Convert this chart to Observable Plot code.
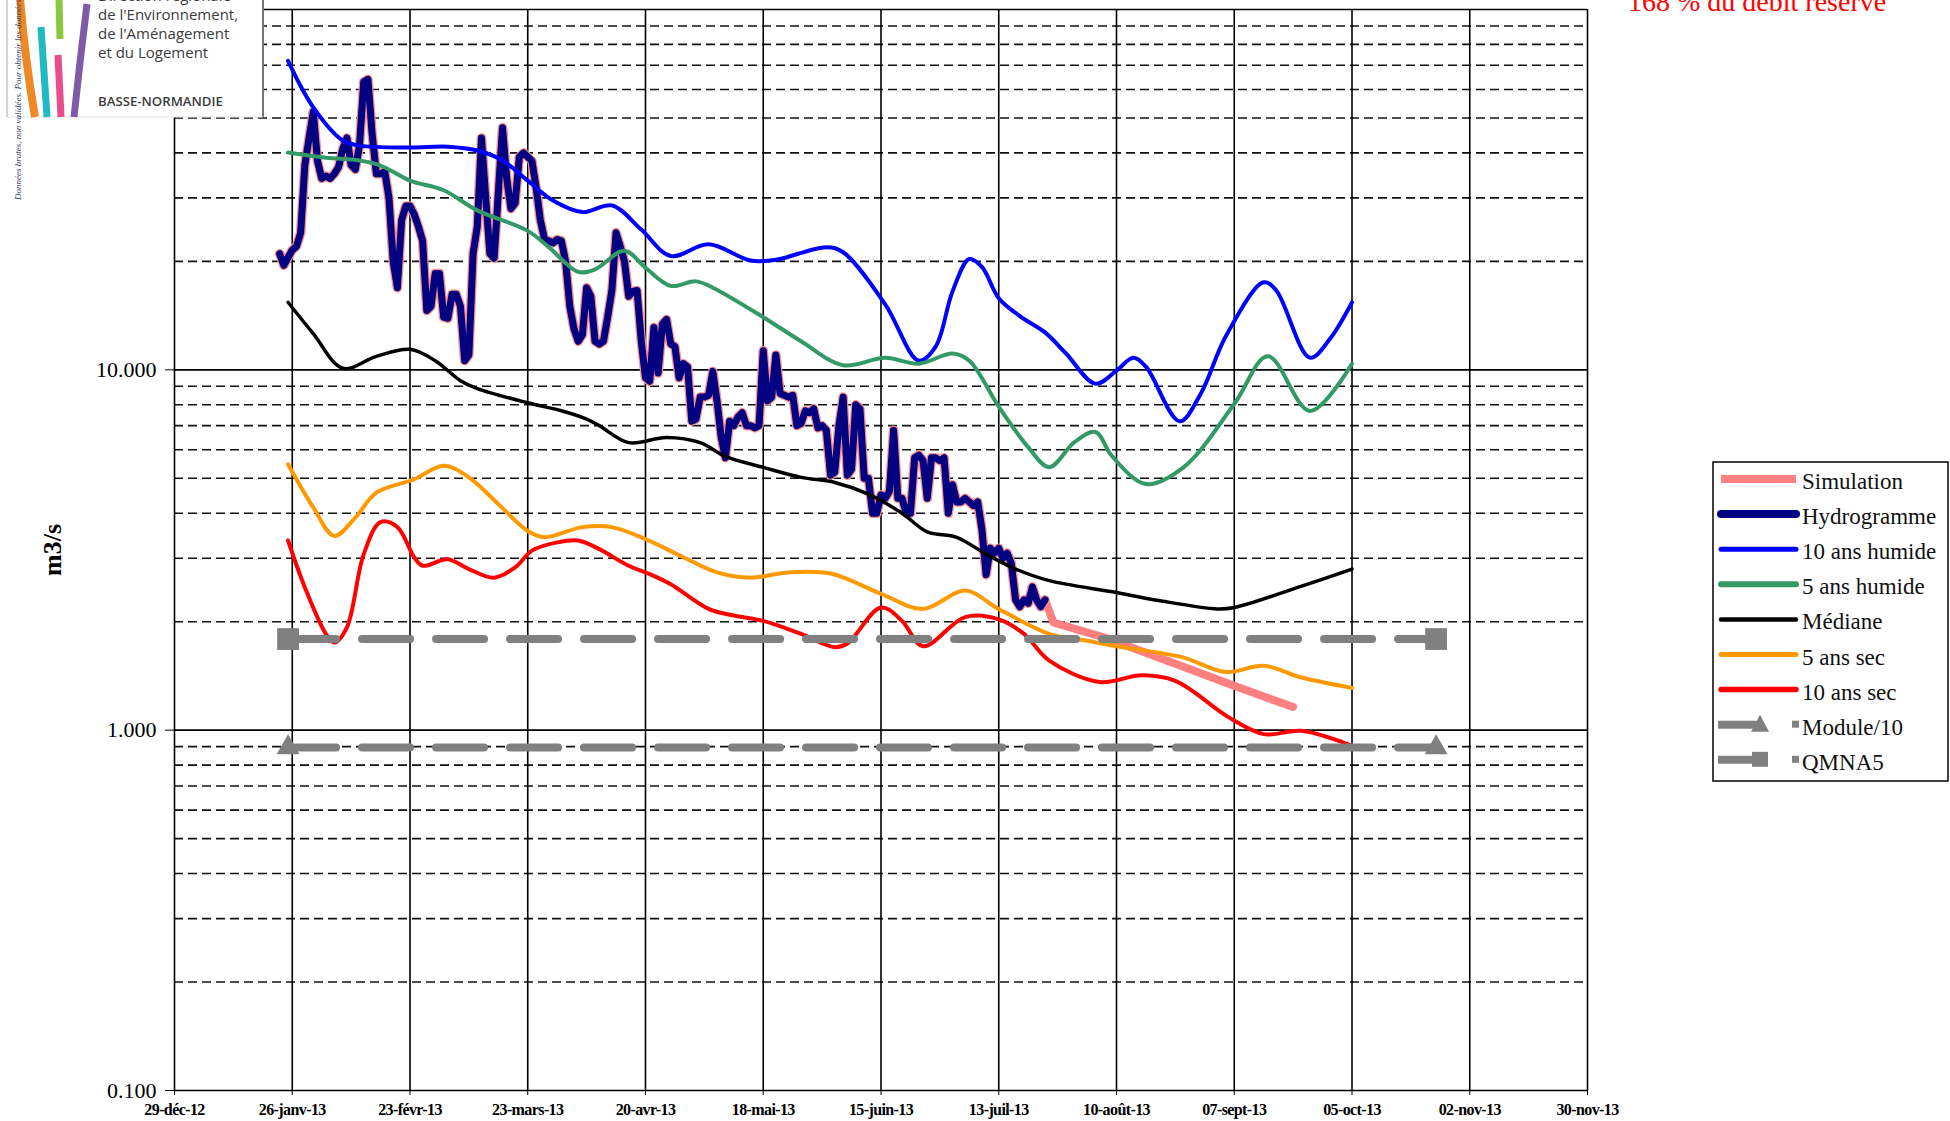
<!DOCTYPE html>
<html>
<head>
<meta charset="utf-8">
<script src="https://cdn.jsdelivr.net/npm/d3@7"></script>
<script src="https://cdn.jsdelivr.net/npm/@observablehq/plot@0.6"></script>
<style>
  html, body { margin: 0; padding: 0; background: #fff; overflow: hidden; }
  #wrap { position: relative; width: 1950px; height: 1121px; }
  #chart svg { display: block; max-width: none; }
  #overlay { position: absolute; left: 0; top: 0; pointer-events: none; }
  g[aria-label="x-axis tick label"] text { font-family: "Liberation Serif", serif; font-size: 16px; font-weight: bold; letter-spacing: -0.6px; fill: #000; }
  g[aria-label="y-axis tick label"] text { font-family: "Liberation Serif", serif; font-size: 22px; fill: #000; }
</style>
</head>
<body>
<div id="wrap"><div id="chart"></div></div>
<script>
// ---------- DATA ----------
const xTickDates = ["2012-12-29","2013-01-26","2013-02-23","2013-03-23","2013-04-20","2013-05-18","2013-06-15","2013-07-13","2013-08-10","2013-09-07","2013-10-05","2013-11-02","2013-11-30"];
const xTickLabels = ["29-déc-12","26-janv-13","23-févr-13","23-mars-13","20-avr-13","18-mai-13","15-juin-13","13-juil-13","10-août-13","07-sept-13","05-oct-13","02-nov-13","30-nov-13"];
const yTickValues = [0.1, 1, 10];
const yMajorGrid = [0.1, 1, 10, 100];
const yMinorGrid = [0.2,0.3,0.4,0.5,0.6,0.7,0.8,0.9,2,3,4,5,6,7,8,9,20,30,40,50,60,70,80,90];

const seriesNames = ["Simulation","Hydrogramme","10 ans humide","5 ans humide","Médiane","5 ans sec","10 ans sec","Module/10","QMNA5"];
const seriesColors = ["#ff8080","#000080","#0000ff","#339966","#000000","#ff9900","#ff0000","#808080","#808080"];

const simulation = [["2013-07-24",2.3],["2013-07-26",1.99],["2013-08-07",1.81],["2013-08-20",1.59],["2013-09-06",1.34],["2013-09-21",1.16]];

const hydroStart = "2013-01-23"; // daily values
const hydroValues = [
  21,19.5,20.5,21.5,22,24,37,44,52,
  38,34,34.5,34,35,36.5,41,44,37,36,42,63,64,45,35,35,35.5,30,20,16.9,26,28.5,28.5,27,25,22.8,14.6,15,
  18.5,18.5,14,13.9,16.2,16.2,15,10.6,11,21,25,44,30,21,20.4,31,47,34,28,29,39,40,39,38,32,26,23,22.8,22.5,23,22.8,
  20,15,13,12,12.5,16.9,16,12,11.8,12,14,16.6,24,22,20,16,16.5,16.6,12,9.5,9.3,13.1,9.8,13.4,13.8,11.8,11.6,9.5,10.4,10.2,
  7.2,7.3,8.4,8.4,8.5,9.9,8.2,6.5,5.7,7.2,7.0,7.4,7.6,7.0,7.0,6.9,7.0,11.3,8.2,8.4,11.0,8.6,8.5,8.4,8.5,7.0,7.1,7.7,7.6,7.8,6.9,
  7.0,6.8,5.1,5.2,7.0,8.4,5.1,5.3,8.0,7.8,5.0,5.0,4.0,4.0,4.5,4.4,4.6,6.8,4.4,4.4,4.0,4.0,5.7,5.8,5.6,4.4,5.7,5.7,5.6,5.7,
  4.0,4.8,4.3,4.3,4.4,4.3,4.2,4.3,3.6,2.7,3.2,3.1,3.2,3.0,3.1,2.9,2.3,2.2,2.3,2.25,2.5,2.3,2.2,2.3
];

const humide10 = [["2013-01-25",72],["2013-01-31",53.5],["2013-02-07",43.3],["2013-02-11",41.9],["2013-02-23",41.4],["2013-03-04",41.6],["2013-03-11",40.6],["2013-03-17",38.1],["2013-03-23",33.5],["2013-03-29",29.5],["2013-04-05",27.4],["2013-04-12",28.6],["2013-04-19",24.5],["2013-04-26",20.7],["2013-05-05",22.3],["2013-05-15",20.1],["2013-05-21",20.2],["2013-06-02",21.9],["2013-06-06",21.2],["2013-06-16",15.2],["2013-06-24",10.6],["2013-06-28",11.6],["2013-07-02",16.5],["2013-07-06",20.3],["2013-07-09",19.3],["2013-07-13",15.8],["2013-07-18",14.1],["2013-07-24",12.7],["2013-07-29",11.1],["2013-08-05",9.15],["2013-08-10",9.95],["2013-08-14",10.8],["2013-08-17",10.2],["2013-08-25",7.2],["2013-08-30",8.57],["2013-09-05",12.4],["2013-09-14",17.5],["2013-09-17",16.6],["2013-09-25",10.8],["2013-09-30",12.3],["2013-10-05",15.4]];

const humide5 = [["2013-01-25",40.1],["2013-02-03",38.8],["2013-02-11",38.1],["2013-02-16",36.9],["2013-02-23",33.5],["2013-03-03",31.5],["2013-03-11",27.7],["2013-03-23",24.3],["2013-03-28",21.9],["2013-04-04",18.7],["2013-04-08",19.0],["2013-04-15",21.4],["2013-04-20",19.2],["2013-04-26",17.1],["2013-05-02",17.6],["2013-05-06",16.9],["2013-05-18",14.0],["2013-05-27",12.0],["2013-06-06",10.3],["2013-06-16",10.8],["2013-06-24",10.4],["2013-07-02",11.1],["2013-07-06",10.6],["2013-07-13",7.9],["2013-07-20",6.1],["2013-07-25",5.37],["2013-07-31",6.3],["2013-08-05",6.72],["2013-08-09",5.75],["2013-08-17",4.82],["2013-08-26",5.37],["2013-09-07",8.04],["2013-09-15",10.9],["2013-09-25",7.69],["2013-10-05",10.4]];

const mediane = [["2013-01-25",15.4],["2013-01-31",12.6],["2013-02-07",10.1],["2013-02-15",10.9],["2013-02-23",11.4],["2013-03-01",10.6],["2013-03-07",9.33],["2013-03-11",8.87],["2013-03-23",8.1],["2013-03-31",7.7],["2013-04-06",7.3],["2013-04-09",7.0],["2013-04-16",6.28],["2013-04-25",6.49],["2013-05-03",6.28],["2013-05-09",5.75],["2013-05-18",5.36],["2013-05-27",5.03],["2013-06-04",4.87],["2013-06-12",4.52],["2013-06-20",4.0],["2013-06-26",3.55],["2013-07-03",3.43],["2013-07-10",3.08],["2013-07-17",2.8],["2013-07-25",2.6],["2013-08-10",2.41],["2013-08-20",2.29],["2013-09-03",2.17],["2013-09-07",2.19],["2013-09-23",2.51],["2013-10-05",2.8]];

const sec5 = [["2013-01-25",5.47],["2013-01-31",4.15],["2013-02-05",3.46],["2013-02-10",3.89],["2013-02-15",4.56],["2013-02-24",4.97],["2013-03-03",5.42],["2013-03-09",5.03],["2013-03-16",4.24],["2013-03-23",3.57],["2013-03-27",3.43],["2013-04-05",3.66],["2013-04-12",3.66],["2013-04-20",3.39],["2013-04-29",3.02],["2013-05-07",2.74],["2013-05-15",2.65],["2013-05-24",2.74],["2013-06-03",2.72],["2013-06-15",2.39],["2013-06-25",2.17],["2013-07-05",2.44],["2013-07-13",2.17],["2013-07-25",1.85],["2013-08-03",1.77],["2013-08-10",1.71],["2013-08-20",1.64],["2013-08-26",1.59],["2013-09-05",1.45],["2013-09-14",1.51],["2013-09-23",1.4],["2013-10-05",1.31]];

const sec10 = [["2013-01-25",3.36],["2013-01-29",2.49],["2013-02-03",1.85],["2013-02-05",1.75],["2013-02-08",1.93],["2013-02-12",3.08],["2013-02-16",3.78],["2013-02-20",3.66],["2013-02-24",3.02],["2013-02-26",2.86],["2013-03-04",2.98],["2013-03-09",2.8],["2013-03-15",2.65],["2013-03-20",2.83],["2013-03-24",3.15],["2013-03-30",3.32],["2013-04-04",3.36],["2013-04-09",3.18],["2013-04-16",2.86],["2013-04-21",2.71],["2013-04-26",2.54],["2013-05-05",2.17],["2013-05-11",2.08],["2013-05-18",2.01],["2013-05-27",1.85],["2013-06-04",1.7],["2013-06-07",1.74],["2013-06-15",2.19],["2013-06-20",2.01],["2013-06-25",1.71],["2013-07-05",2.06],["2013-07-13",2.03],["2013-07-19",1.85],["2013-07-25",1.56],["2013-08-06",1.36],["2013-08-16",1.42],["2013-08-24",1.37],["2013-09-06",1.08],["2013-09-14",0.975],["2013-09-23",0.996],["2013-10-03",0.924],["2013-10-05",0.905]];

const module10 = [["2013-01-25",0.895],["2013-10-25",0.895]];
const qmna5 = [["2013-01-25",1.79],["2013-10-25",1.79]];

// ---------- BUILD ----------
const rows = arr => arr.map(([d, v]) => ({date: new Date(d), v}));
const DAY = 86400000;
const hydro = hydroValues.map((v, i) => ({date: new Date(Date.parse(hydroStart) + i * DAY), v}));
const tickDates = xTickDates.map(d => new Date(d));
const labelMap = new Map(tickDates.map((d, i) => [+d, xTickLabels[i]]));

const smooth = (data, color, w) => Plot.line(rows(data), {x: "date", y: "v", stroke: color, strokeWidth: w, curve: "catmull-rom", strokeLinejoin: "round", strokeLinecap: "round"});

const chart = Plot.plot({
  width: 1950, height: 1121,
  marginLeft: 174, marginRight: 363, marginTop: 9, marginBottom: 31,
  style: {background: "white", fontFamily: "Liberation Serif"},
  x: {type: "utc", domain: [new Date("2012-12-29"), new Date("2013-11-30")]},
  y: {type: "log", domain: [0.1, 100]},
  marks: [
    Plot.ruleY(yMinorGrid, {stroke: "#111", strokeWidth: 1.6, strokeDasharray: "9,5"}),
    Plot.ruleY(yMajorGrid, {stroke: "#000", strokeWidth: 1.7}),
    Plot.ruleX(tickDates, {stroke: "#000", strokeWidth: 1.6}),
    Plot.axisX({ticks: tickDates, tickFormat: d => labelMap.get(+d), tickSize: 5, tickPadding: 8, label: null}),
    Plot.axisY({ticks: yTickValues, tickFormat: d3.format(".3f"), tickSize: 9, tickPadding: 9, label: null}),
    Plot.line(rows(simulation), {x: "date", y: "v", stroke: seriesColors[0], strokeWidth: 8}),
    Plot.line(hydro, {x: "date", y: "v", stroke: "#ff8c8c", strokeWidth: 9.5, strokeLinejoin: "round"}),
    Plot.line(hydro, {x: "date", y: "v", stroke: seriesColors[1], strokeWidth: 7, strokeLinejoin: "round"}),
    smooth(humide10, seriesColors[2], 4),
    smooth(humide5, seriesColors[3], 4),
    smooth(mediane, seriesColors[4], 3.5),
    smooth(sec5, seriesColors[5], 4),
    smooth(sec10, seriesColors[6], 4),
    Plot.line(rows(module10), {x: "date", y: "v", stroke: seriesColors[7], strokeWidth: 8, strokeDasharray: "48,26"}),
    Plot.dot(rows(module10), {x: "date", y: "v", symbol: "triangle", r: 8.5, fill: seriesColors[7], stroke: "none"}),
    Plot.line(rows(qmna5), {x: "date", y: "v", stroke: seriesColors[8], strokeWidth: 8, strokeDasharray: "48,26"}),
    Plot.dot(rows(qmna5), {x: "date", y: "v", symbol: "square", r: 12.3, fill: seriesColors[8], stroke: "none"})
  ]
});
document.getElementById("chart").appendChild(chart);

// ---------- DECORATIONS (logo, titles, legend) ----------
const ov = d3.select("#wrap").append("svg").attr("id", "overlay").attr("width", 1950).attr("height", 1121);

// logo block
const logo = ov.append("g");
logo.append("rect").attr("x", 7).attr("y", -2).attr("width", 256).attr("height", 119).attr("fill", "#fff");
logo.append("line").attr("x1", 7).attr("x2", 7).attr("y1", 0).attr("y2", 117).attr("stroke", "#aaa").attr("stroke-width", 1);
logo.append("line").attr("x1", 263).attr("x2", 263).attr("y1", 0).attr("y2", 117).attr("stroke", "#777").attr("stroke-width", 2);
logo.append("line").attr("x1", 7).attr("x2", 263).attr("y1", 117).attr("y2", 117).attr("stroke", "#e2e2e2").attr("stroke-width", 1);
const stripes = [
  ["M20,-2 Q25,60 35,117", "#ee8a25", 8],
  ["M41,27 L47,117", "#22b8c4", 7],
  ["M59,-2 L60,39", "#8dc63f", 7],
  ["M58,55 L61,117", "#e74c8b", 7],
  ["M87,4 Q80,60 74,117", "#7d5ba6", 7]
];
stripes.forEach(([d, c, w]) => logo.append("path").attr("d", d).attr("fill", "none").attr("stroke", c).attr("stroke-width", w));
const logoLines = [["Direction régionale", 1], ["de l'Environnement,", 19.5], ["de l'Aménagement", 38.5], ["et du Logement", 57.5]];
logoLines.forEach(([t, y]) => logo.append("text").attr("x", 98).attr("y", y).attr("font-family", "Open Sans").attr("font-size", 15).attr("fill", "#3c3c3c").text(t));
logo.append("text").attr("x", 98).attr("y", 106).attr("font-family", "Open Sans").attr("font-size", 13.2).attr("font-weight", 600).attr("fill", "#3c3c3c").text("BASSE-NORMANDIE");
ov.append("text").attr("transform", "translate(21,200) rotate(-90)").attr("font-family", "Liberation Serif").attr("font-style", "italic").attr("font-size", 9).attr("fill", "#35356b").text("Données brutes, non validées. Pour obtenir les données validées");

// red note top right
ov.append("text").attr("x", 1628).attr("y", 11).attr("font-family", "Liberation Serif").attr("font-size", 28).attr("fill", "#ff0000").text("168 % du débit réservé");

// y axis title
ov.append("text").attr("transform", "translate(61,550) rotate(-90)").attr("text-anchor", "middle").attr("font-family", "Liberation Serif").attr("font-weight", "bold").attr("font-size", 26).attr("fill", "#000").text("m3/s");

// legend
const lg = ov.append("g");
lg.append("rect").attr("x", 1713).attr("y", 462).attr("width", 235).attr("height", 319).attr("fill", "#fff").attr("stroke", "#000").attr("stroke-width", 1.5);
const widths = [8, 8, 5, 6, 4.5, 5, 5.5];
seriesNames.forEach((name, i) => {
  const cy = 479 + 35.1 * i;
  const c = seriesColors[i];
  if (i < 7) {
    lg.append("line").attr("x1", 1721).attr("x2", 1796).attr("y1", cy).attr("y2", cy)
      .attr("stroke", c).attr("stroke-width", widths[i]).attr("stroke-linecap", i === 0 ? "butt" : "round");
  } else {
    lg.append("line").attr("x1", 1718).attr("x2", 1762).attr("y1", cy).attr("y2", cy).attr("stroke", c).attr("stroke-width", 8);
    if (i === 7) {
      lg.append("path").attr("d", `M1760,${cy - 10} L1769,${cy + 7} L1751,${cy + 7} Z`).attr("fill", c);
    } else {
      lg.append("rect").attr("x", 1752).attr("y", cy - 8).attr("width", 16).attr("height", 15).attr("fill", c);
    }
    lg.append("rect").attr("x", 1792).attr("y", cy - 4).attr("width", 7).attr("height", 7).attr("fill", c);
  }
  lg.append("text").attr("x", 1802).attr("y", cy + 10).attr("font-family", "Liberation Serif").attr("font-size", 23).attr("fill", "#111").text(name);
});
</script>
</body>
</html>
